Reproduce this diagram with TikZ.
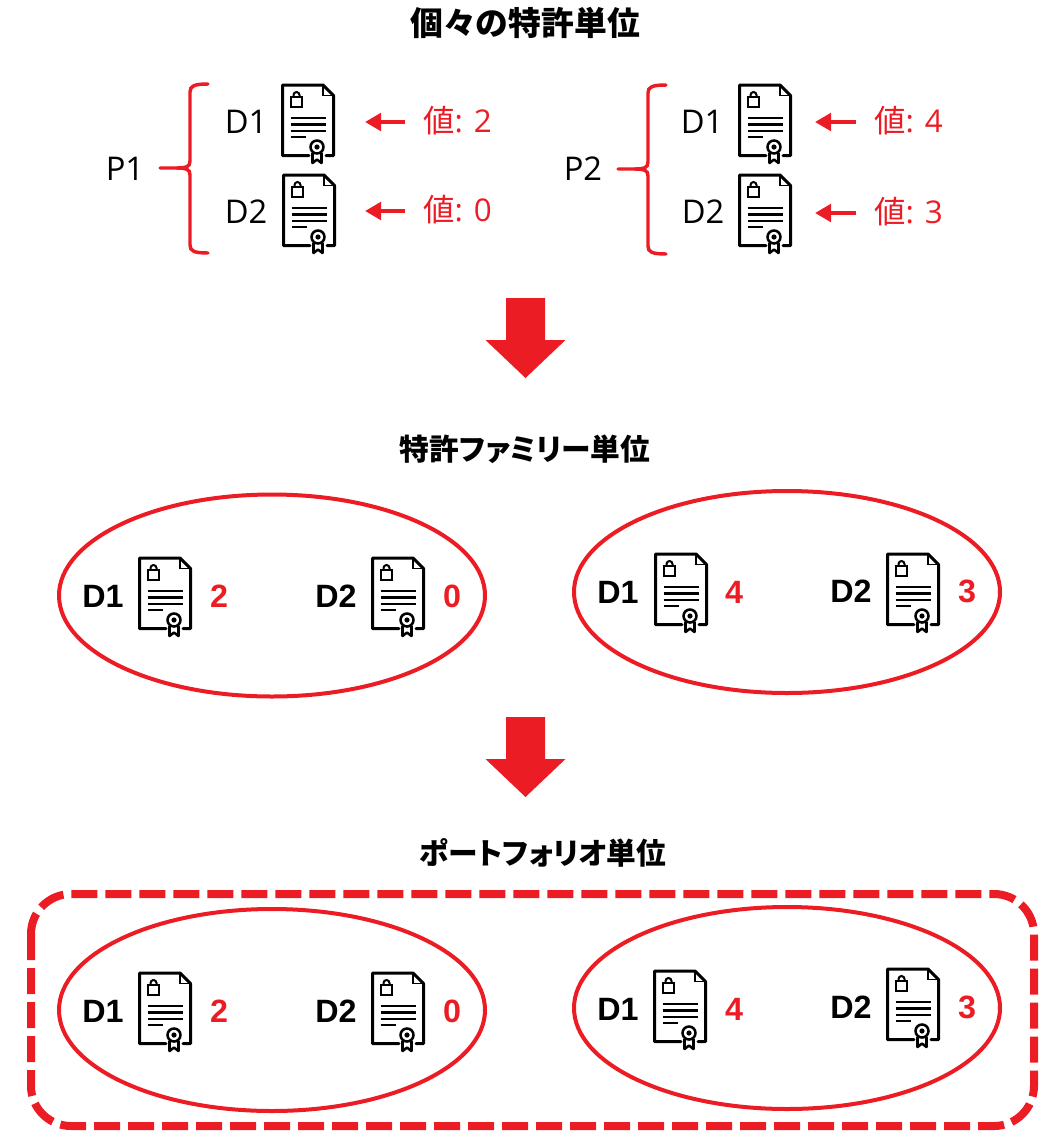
\documentclass[tikz,border=0pt]{standalone}
\usepackage{fontspec}
\setmainfont{Open Sans}
\newfontfamily\cjk{Noto Sans CJK JP}
\newfontfamily\cjktitle[RawFeature=+palt]{Noto Sans CJK JP}
\newfontfamily\arialb{Liberation Sans}
\usetikzlibrary{arrows.meta,shapes.geometric}
\definecolor{markred}{HTML}{EC1C24}
\tikzset{
  titlelabel/.style={font=\cjk\bfseries\fontsize{#1}{#1}\selectfont},
  kanalabel/.style={font=\cjktitle\bfseries\fontsize{#1}{#1}\selectfont},
  plainlabel/.style={font=\fontsize{24.5}{26}\selectfont},
  vallabel/.style={anchor=west,text=markred,inner sep=0pt,text height=18pt,text depth=3pt,font=\fontsize{23.5}{26}\selectfont},
  boldlabel/.style={font=\arialb\bfseries\fontsize{24.2}{26}\selectfont},
  boldval/.style={boldlabel,text=markred},
  family/.style={draw=markred,line width=3pt,ellipse,inner sep=0pt,minimum width=319.5pt,minimum height=151.5pt},
  ptr/.style={draw=markred,line width=3pt,shorten <=13.5pt,-{Triangle[length=12pt,width=13pt]}},
  docicon/.pic={
    \draw[line width=2.25pt,line join=round,line cap=round] (28,71.5) -- (1.5,71.5) -- (1.5,1) -- (42,1) -- (52.5,11.5) -- (52.5,71.5) -- (45,71.5);
    \draw[line width=1pt] (42,1) -- (42,11.5) -- (52.5,11.5);
    \draw[line width=1.9pt] (10,13) rectangle (21,23);
    \draw[line width=1.5pt] (12.5,13) -- (12.5,11) arc[start angle=180,end angle=360,radius=3] -- (18.5,13);
    \draw[line width=1.9pt] (9.5,34) -- (45,34);
    \draw[line width=1.9pt] (9.5,40.5) -- (45,40.5);
    \draw[line width=1.9pt] (9.5,47) -- (45,47);
    \draw[line width=1.9pt] (9.5,53) -- (25,53);
    \draw[line width=1.9pt] (36,63) circle[radius=6.5];
    \fill (36,63) circle[radius=2.6];
    \draw[line width=1.9pt,line join=round] (31.5,69) -- (31.5,79) -- (36,75.5) -- (40.5,79) -- (40.5,69);
  },
  curlybrace/.pic={
    \draw[markred,line width=2.6pt,line cap=round] (0,0) -- (17,0) .. controls (26,0) and (30,-1) .. (30,-7) -- (30,-76) .. controls (30,-82) and (34,-84) .. (48,-84);
    \draw[markred,line width=2.6pt,line cap=round] (17,0) .. controls (26,0) and (30,1) .. (30,7) -- (30,77) .. controls (30,83) and (34,85) .. (48,85);
  },
  downarrow/.pic={
    \fill[markred] (-19.5,0) -- (19.5,0) -- (19.5,42) -- (40,42) -- (0,80) -- (-40,42) -- (-19.5,42) -- cycle;
  },
}
\begin{document}
\begin{tikzpicture}[x=0.75pt,y=-0.75pt]
\useasboundingbox (0,0) rectangle (1051,1140);
% first level
\node[titlelabel=24.6] (title1) at (525,23) {個々の特許単位};
\node[plainlabel] (p1) at (125,169) {P1};
\node[plainlabel] (p2) at (583,169) {P2};
\pic at (160,168) {curlybrace};
\pic at (618,169) {curlybrace};
\node[plainlabel] (a1) at (246,122) {D1};
\node[plainlabel] (a2) at (246,212) {D2};
\node[plainlabel] (b1) at (702,122) {D1};
\node[plainlabel] (b2) at (703,212) {D2};
\pic at (281,84) {docicon};
\pic at (282,174) {docicon};
\pic at (738,84) {docicon};
\pic at (738,174) {docicon};
\node[vallabel] (va1) at (423,122) {{\cjk 値}: 2};
\node[vallabel] (va2) at (423,211) {{\cjk 値}: 0};
\node[vallabel] (vb1) at (874,122) {{\cjk 値}: 4};
\node[vallabel] (vb2) at (874,213) {{\cjk 値}: 3};
\coordinate (ta1) at (365,122);
\coordinate (ta2) at (365,211);
\coordinate (tb1) at (815,122);
\coordinate (tb2) at (815,213);
\draw[ptr] (va1.west) -- (ta1);
\draw[ptr] (va2.west) -- (ta2);
\draw[ptr] (vb1.west) -- (tb1);
\draw[ptr] (vb2.west) -- (tb2);
\pic at (525.5,298) {downarrow};
% second level
\node[kanalabel=22.3] (title2) at (525,449) {特許ファミリー単位};
\node[family] (fam1) at (272,595.5) {};
\node[family] (fam2) at (787,592) {};
\node[boldlabel] (c1) at (103,596) {D1};
\node[boldlabel] (c2) at (336,596) {D2};
\node[boldlabel] (d1) at (618,592) {D1};
\node[boldlabel] (d2) at (851,591) {D2};
\pic at (138,557) {docicon};
\pic at (371,557) {docicon};
\pic at (654,553) {docicon};
\pic at (886,553) {docicon};
\node[boldval] (vc1) at (219,596) {2};
\node[boldval] (vc2) at (452,596) {0};
\node[boldval] (vd1) at (734,592) {4};
\node[boldval] (vd2) at (967,591) {3};
\pic at (525.5,717) {downarrow};
% third level
\node[kanalabel=22.3] (title3) at (543,853) {ポートフォリオ単位};
\draw[draw=markred,line width=6pt,dash pattern=on 19.5pt off 6pt,rounded corners=30pt] (31,894) rectangle (1034,1126);
\node[family] (fam3) at (272,1010) {};
\node[family] (fam4) at (787,1008) {};
\node[boldlabel] (e1) at (103,1011) {D1};
\node[boldlabel] (e2) at (336,1011) {D2};
\node[boldlabel] (f1) at (618,1009) {D1};
\node[boldlabel] (f2) at (851,1007) {D2};
\pic at (138,972) {docicon};
\pic at (371,972) {docicon};
\pic at (653,970) {docicon};
\pic at (886,968) {docicon};
\node[boldval] (ve1) at (219,1011) {2};
\node[boldval] (ve2) at (452,1011) {0};
\node[boldval] (vf1) at (734,1009) {4};
\node[boldval] (vf2) at (967,1007) {3};
\end{tikzpicture}
\end{document}
